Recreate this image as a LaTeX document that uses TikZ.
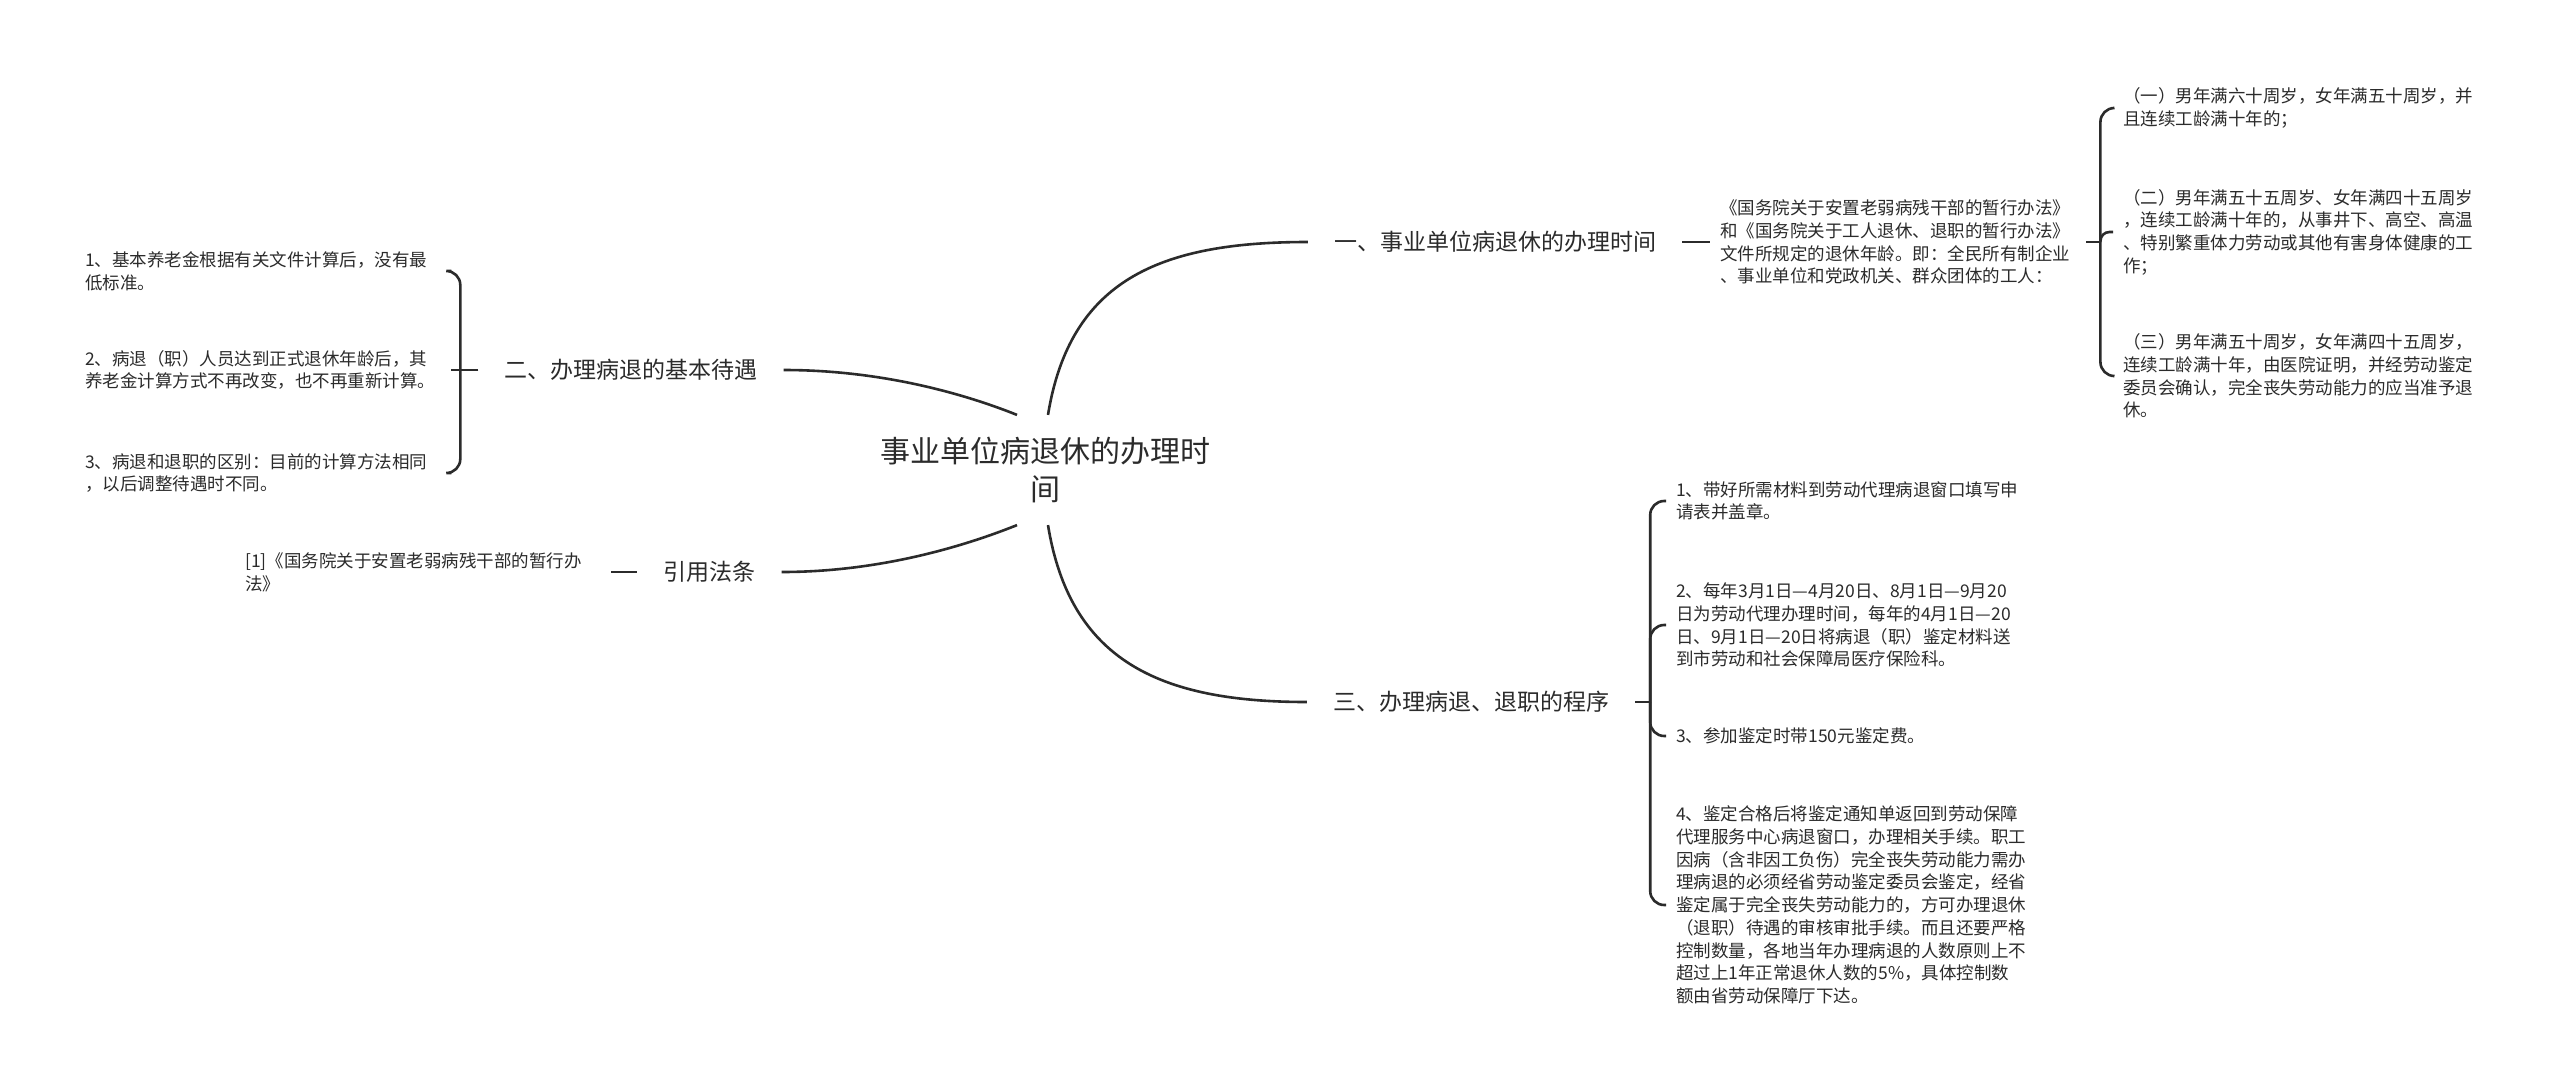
\documentclass[tikz,border=0pt]{standalone}
\usepackage{fontspec}
\setmainfont{Noto Sans CJK SC}
\usepackage{tikz}

\definecolor{ink}{HTML}{2B2B2B}
\tikzset{
	leaf/.style={anchor=west, inner xsep=10pt, inner ysep=2pt, text width=356pt, align=left, text=ink, font=\fontsize{17.5pt}{22.7pt}\selectfont},
	branch/.style={inner xsep=26pt, inner ysep=4pt, text=ink, font=\fontsize{23pt}{28pt}\selectfont},
	hub/.style={inner xsep=10pt, inner ysep=22pt, align=center, text=ink, font=\fontsize{30pt}{38pt}\selectfont},
	link/.style={draw=ink, line width=2.6pt},
	curl/.style={link, rounded corners=14pt}
}

\begin{document}
\begin{tikzpicture}[x=1pt, y=-1pt]
	\fill[white] (0,0) rectangle (2560,1090);
	\useasboundingbox (0,0) rectangle (2560,1090);

	\node[hub] (ctr) at (1045,470) {事业单位病退休的办理时\\间};

	\node[branch] (b1) at (1495,242) {一、事业单位病退休的办理时间};
	\node[branch] (b2) at (631,370) {二、办理病退的基本待遇};
	\node[branch] (b3) at (709.5,572) {引用法条};
	\node[branch] (b4) at (1471,702) {三、办理病退、退职的程序};

	\node[leaf] (l1) at (1710,242) {《国务院关于安置老弱病残干部的暂行办法》\\和《国务院关于工人退休、退职的暂行办法》\\文件所规定的退休年龄。即：全民所有制企业\\、事业单位和党政机关、群众团体的工人：};
	\node[leaf] (c1) at (2113,108) {（一）男年满六十周岁，女年满五十周岁，并\\且连续工龄满十年的；};
	\node[leaf] (c2) at (2113,232) {（二）男年满五十五周岁、女年满四十五周岁\\，连续工龄满十年的，从事井下、高空、高温\\、特别繁重体力劳动或其他有害身体健康的工\\作；};
	\node[leaf] (c3) at (2113,376) {（三）男年满五十周岁，女年满四十五周岁，\\连续工龄满十年，由医院证明，并经劳动鉴定\\委员会确认，完全丧失劳动能力的应当准予退\\休。};

	\node[leaf] (t1) at (75,271) {1、基本养老金根据有关文件计算后，没有最\\低标准。};
	\node[leaf] (t2) at (75,370) {2、病退（职）人员达到正式退休年龄后，其\\养老金计算方式不再改变，也不再重新计算。};
	\node[leaf] (t3) at (75,473) {3、病退和退职的区别：目前的计算方法相同\\，以后调整待遇时不同。};

	\node[leaf] (r1) at (235,572) {[1]《国务院关于安置老弱病残干部的暂行办\\法》};

	\node[leaf] (d1) at (1666,501) {1、带好所需材料到劳动代理病退窗口填写申\\请表并盖章。};
	\node[leaf] (d2) at (1666,625) {2、每年3月1日—4月20日、8月1日—9月20\\日为劳动代理办理时间，每年的4月1日—20\\日、9月1日—20日将病退（职）鉴定材料送\\到市劳动和社会保障局医疗保险科。};
	\node[leaf] (d3) at (1666,736) {3、参加鉴定时带150元鉴定费。};
	\node[leaf] (d4) at (1666,905) {4、鉴定合格后将鉴定通知单返回到劳动保障\\代理服务中心病退窗口，办理相关手续。职工\\因病（含非因工负伤）完全丧失劳动能力需办\\理病退的必须经省劳动鉴定委员会鉴定，经省\\鉴定属于完全丧失劳动能力的，方可办理退休\\（退职）待遇的审核审批手续。而且还要严格\\控制数量，各地当年办理病退的人数原则上不\\超过上1年正常退休人数的5\%，具体控制数\\额由省劳动保障厅下达。};

	\draw[link] ([xshift=3pt]ctr.north) .. controls +(22,-135) and +(-148,0) .. (b1.west);
	\draw[link] ([xshift=-28pt]ctr.north) .. controls +(-50,-20) and +(100,0) .. (b2.east);
	\draw[link] ([xshift=-28pt]ctr.south) .. controls +(-50,20) and +(100,0) .. (b3.east);
	\draw[link] ([xshift=3pt]ctr.south) .. controls +(22,135) and +(-148,0) .. (b4.west);

	\draw[link] (b1.east) -- (l1.west);
	\draw[link] (l1.east) -- ++(14,0) coordinate (k1);
	\draw[curl] (k1) |- (c1.west);
	\draw[curl, rounded corners=9pt] (k1) |- (c2.west);
	\draw[curl] (k1) |- (c3.west);

	\draw[link] (b2.west) -- ++(-18,0) coordinate (k2) -- (t2.east);
	\draw[curl] (k2) |- (t1.east);
	\draw[curl] (k2) |- (t3.east);

	\draw[link] (r1.east) -- (b3.west);

	\draw[link] (b4.east) -- ++(15,0) coordinate (k4);
	\draw[curl] (k4) |- (d1.west);
	\draw[curl] (k4) |- (d2.west);
	\draw[curl] (k4) |- (d3.west);
	\draw[curl] (k4) |- (d4.west);
\end{tikzpicture}
\end{document}
